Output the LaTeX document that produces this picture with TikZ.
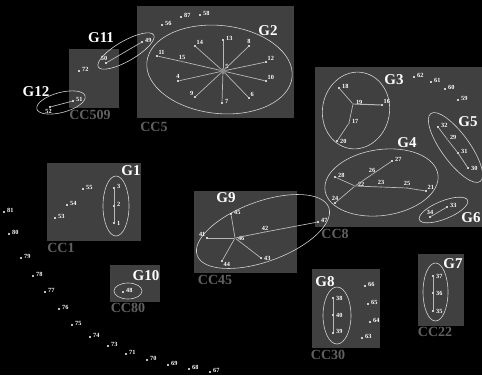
\documentclass[tikz,border=0pt]{standalone}
\usepackage{fontspec}
\setmainfont{Liberation Serif}
\usetikzlibrary{shapes.geometric}
\definecolor{boxc}{HTML}{404040}
\definecolor{cclabc}{HTML}{606060}
\definecolor{edgec}{HTML}{B8B8B8}
\definecolor{ellc}{HTML}{D2D2D2}
\definecolor{midc}{HTML}{8C8C8C}
\begin{document}
\begin{tikzpicture}[x=1pt,y=-1pt,
  dot/.style={circle, fill=white, inner sep=0pt, minimum size=2.4pt},
  mid/.style={circle, fill=midc, inner sep=0pt, minimum size=2.2pt},
  hub/.style={circle, fill=midc, inner sep=0pt, minimum size=6pt},
  edge/.style={draw=edgec, line width=0.7pt},
  grp/.style={ellipse, draw=ellc, line width=0.6pt, inner sep=0pt},
  glab/.style={text=white, font=\fontsize{15}{15}\selectfont\bfseries, inner sep=0pt},
  cclab/.style={text=cclabc, font=\fontsize{14}{14}\selectfont\bfseries, inner sep=0pt},
  box/.style={fill=boxc},
  lab/.style={text=white, font=\fontsize{6.3}{6.3}\selectfont\bfseries, inner sep=0.5pt},
  lR/.style={label={[lab,anchor=west,xshift=1pt,yshift=2pt]east:#1}},
  lE/.style={label={[lab,anchor=west,xshift=1pt]east:#1}},
  lN/.style={label={[lab,anchor=south]north:#1}},
  lNE/.style={label={[lab,anchor=south west]north east:#1}},
  lNW/.style={label={[lab,anchor=south east]north west:#1}},
  lS/.style={label={[lab,anchor=north]south:#1}},
  lSE/.style={label={[lab,anchor=north west]south east:#1}}
]
\fill[black] (0,0) rectangle (482,375);
\useasboundingbox (0,0) rectangle (482,375);

% component boxes
\fill[box] (69,49) rectangle (119,108);
\fill[box] (137,6) rectangle (294,118);
\fill[box] (315,67) rectangle (482,227);
\fill[box] (47,163) rectangle (141,241);
\fill[box] (194,191) rectangle (297,273);
\fill[box] (110,265) rectangle (160,302);
\fill[box] (312,269) rectangle (380,348);
\fill[box] (418,254) rectangle (464,326);

% component labels
\node[cclab] (cc509) at (90,115) {CC509};
\node[cclab] (cc5) at (154,127) {CC5};
\node[cclab] (cc8) at (335,234) {CC8};
\node[cclab] (cc1) at (61,248) {CC1};
\node[cclab] (cc45) at (215,280) {CC45};
\node[cclab] (cc80) at (128,308) {CC80};
\node[cclab] (cc30) at (328,355) {CC30};
\node[cclab] (cc22) at (435,332) {CC22};

% group ellipses
\node[grp, minimum width=64pt, minimum height=20pt, rotate=30] (g11e) at (126,51) {};
\node[grp, minimum width=50pt, minimum height=20pt, rotate=15] (g12e) at (61,102.5) {};
\node[grp, minimum width=146pt, minimum height=88pt, rotate=-6] (g2e) at (219.5,69.5) {};
\node[grp, minimum width=67pt, minimum height=77pt, rotate=-10] (g3e) at (356,110.5) {};
\node[grp, minimum width=114pt, minimum height=66pt, rotate=8] (g4e) at (381.5,182.5) {};
\node[grp, minimum width=84pt, minimum height=28pt, rotate=-54] (g5e) at (455.5,147.5) {};
\node[grp, minimum width=52pt, minimum height=18pt, rotate=22] (g6e) at (443.5,210) {};
\node[grp, minimum width=26pt, minimum height=60pt] (g1e) at (116,206) {};
\node[grp, minimum width=140pt, minimum height=60pt, rotate=20] (g9e) at (263,231.5) {};
\node[grp, minimum width=28pt, minimum height=16pt] (g10e) at (128,291) {};
\node[grp, minimum width=28pt, minimum height=57pt] (g8e) at (337,315.5) {};
\node[grp, minimum width=25pt, minimum height=58pt] (g7e) at (435.5,292) {};

% group labels
\node[glab] (g12) at (36,92) {G12};
\node[glab] (g11) at (101,38) {G11};
\node[glab] (g2) at (268,31) {G2};
\node[glab] (g1) at (131,170.5) {G1};
\node[glab] (g3) at (394,80) {G3};
\node[glab] (g4) at (407,143) {G4};
\node[glab] (g5) at (468,122) {G5};
\node[glab] (g6) at (471,217.5) {G6};
\node[glab] (g9) at (226,198) {G9};
\node[glab] (g10) at (146,276) {G10};
\node[glab] (g8) at (325,281.5) {G8};
\node[glab] (g7) at (453,264) {G7};

% outer chain
\node[dot,lR=81] (n81) at (4,212) {};
\node[dot,lR=80] (n80) at (9,234) {};
\node[dot,lR=79] (n79) at (21,258) {};
\node[dot,lR=78] (n78) at (33,276) {};
\node[dot,lR=77] (n77) at (45,292) {};
\node[dot,lR=76] (n76) at (59,309) {};
\node[dot,lR=75] (n75) at (72,325) {};
\node[dot,lR=74] (n74) at (90,337) {};
\node[dot,lR=73] (n73) at (108,346) {};
\node[dot,lR=71] (n71) at (126,354) {};
\node[dot,lR=70] (n70) at (147,360) {};
\node[dot,lR=69] (n69) at (168,365) {};
\node[dot,lR=68] (n68) at (189,369) {};
\node[dot,lR=67] (n67) at (210,372) {};

% CC509
\node[dot,lR=72] (n72) at (79,71) {};
\node[dot,label={[lab,anchor=south,xshift=-2pt]north:50}] (n50) at (106,63) {};
\node[dot,lR=49] (n49) at (142,42) {};
\node[dot,lR=51] (n51) at (73,101) {};
\node[dot,label={[lab,anchor=north,xshift=-1.5pt]south:52}] (n52) at (50,107) {};
\draw[edge] (n50) -- (n49);
\draw[edge] (n51) -- (n52);

% CC5
\node[dot,lR=56] (n56) at (162,25) {};
\node[dot,lR=87] (n87) at (181,17) {};
\node[dot,lR=58] (n58) at (200,15) {};
\node[hub,label={[lab,anchor=south west,inner sep=0pt]north east:5}] (n5) at (223,71) {};
\node[dot,lR=13] (n13) at (223,40) {};
\node[dot,lN=8] (n8) at (249,46) {};
\node[dot,lNE=12] (n12) at (266,62) {};
\node[dot,lNE=10] (n10) at (266,81) {};
\node[dot,lNE=6] (n6) at (249,98) {};
\node[dot,lR=7] (n7) at (222,103) {};
\node[dot,lNW=9] (n9) at (195,97) {};
\node[dot,lN=4] (n4) at (178,81) {};
\node[dot,lNE=11] (n11) at (157,56) {};
\node[mid,lN=15] (n15) at (182,61.5) {};
\node[dot,lNE=14] (n14) at (195,46) {};
\foreach \t in {n13,n8,n12,n10,n6,n7,n9,n4,n14} \draw[edge] (n5) -- (\t);
\draw[edge] (n5) -- (n15) -- (n11);

% CC8
\node[dot,lR=18] (n18) at (339,88) {};
\node[mid,lR=19] (n19) at (353,104) {};
\node[dot,lNE=16] (n16) at (382,105) {};
\node[mid,lR=17] (n17) at (349,123) {};
\node[dot,lE=20] (n20) at (337,141) {};
\draw[edge] (n19) -- (n18);
\draw[edge, line width=1pt] (n19) -- (n16);
\draw[edge] (n19) -- (n17) -- (n20);

\node[dot,lR=62] (n62) at (414,77) {};
\node[dot,lR=61] (n61) at (431,82) {};
\node[dot,lR=60] (n60) at (445,89) {};
\node[dot,lR=59] (n59) at (458,100) {};

\node[dot,lR=32] (n32) at (438,127) {};
\node[mid,lR=29] (n29) at (447,139) {};
\node[dot,lR=31] (n31) at (458,153) {};
\node[dot,lE=30] (n30) at (468,168) {};
\draw[edge] (n32) -- (n29) -- (n31) -- (n30);

\node[dot,lR=27] (n27) at (392,161) {};
\node[mid,lN=26] (n26) at (372,174.5) {};
\node[mid,lR=22] (n22) at (355,186) {};
\node[dot,lR=28] (n28) at (335,177) {};
\node[dot,lN=24] (n24) at (335,203) {};
\node[mid,lN=23] (n23) at (381,187) {};
\node[mid,lN=25] (n25) at (407,188) {};
\node[dot,lNE=21] (n21) at (426,191) {};
\draw[edge] (n22) -- (n28);
\draw[edge] (n22) -- (n24);
\draw[edge] (n22) -- (n26) -- (n27);
\draw[edge] (n22) -- (n23) -- (n25) -- (n21);

\node[dot,lN=34] (n34) at (430,217) {};
\node[dot,lR=33] (n33) at (447,207) {};
\draw[edge] (n34) -- (n33);

% CC1
\node[dot,lR=55] (n55) at (83,189) {};
\node[dot,lR=54] (n54) at (67,205) {};
\node[dot,lR=53] (n53) at (55,218) {};
\node[dot,lR=3] (n3) at (114,188) {};
\node[dot,lR=2] (n2) at (114,206) {};
\node[dot,lE=1] (n1) at (114,223) {};
\draw[edge] (n3) -- (n2) -- (n1);

% CC45
\node[dot,lR=45] (n45) at (231,214) {};
\node[mid,lE=46] (n46) at (235,238) {};
\node[dot,lNW=41] (n41) at (207,238) {};
\node[dot,lSE=44] (n44) at (222,261) {};
\node[dot,lE=43] (n43) at (261,258) {};
\node[mid,lN=42] (n42) at (265,232) {};
\node[dot,lR=47] (n47) at (318,222) {};
\draw[edge] (n46) -- (n45);
\draw[edge] (n46) -- (n41);
\draw[edge] (n46) -- (n44);
\draw[edge] (n46) -- (n43);
\draw[edge] (n46) -- (n42) -- (n47);

% CC80
\node[dot,lR=48] (n48) at (123,292) {};

% CC30
\node[dot,lE=38] (n38) at (333,298) {};
\node[dot,lE=40] (n40) at (333,315) {};
\node[dot,lR=39] (n39) at (333,333) {};
\draw[edge] (n38) -- (n40) -- (n39);
\node[dot,lR=66] (n66) at (365,286) {};
\node[dot,lR=65] (n65) at (368,304) {};
\node[dot,lR=64] (n64) at (370,322) {};
\node[dot,lR=63] (n63) at (362,338) {};

% CC22
\node[dot,lE=37] (n37) at (433,276) {};
\node[dot,lE=36] (n36) at (433,293) {};
\node[dot,lE=35] (n35) at (433,311) {};
\draw[edge] (n37) -- (n36) -- (n35);
\end{tikzpicture}
\end{document}
